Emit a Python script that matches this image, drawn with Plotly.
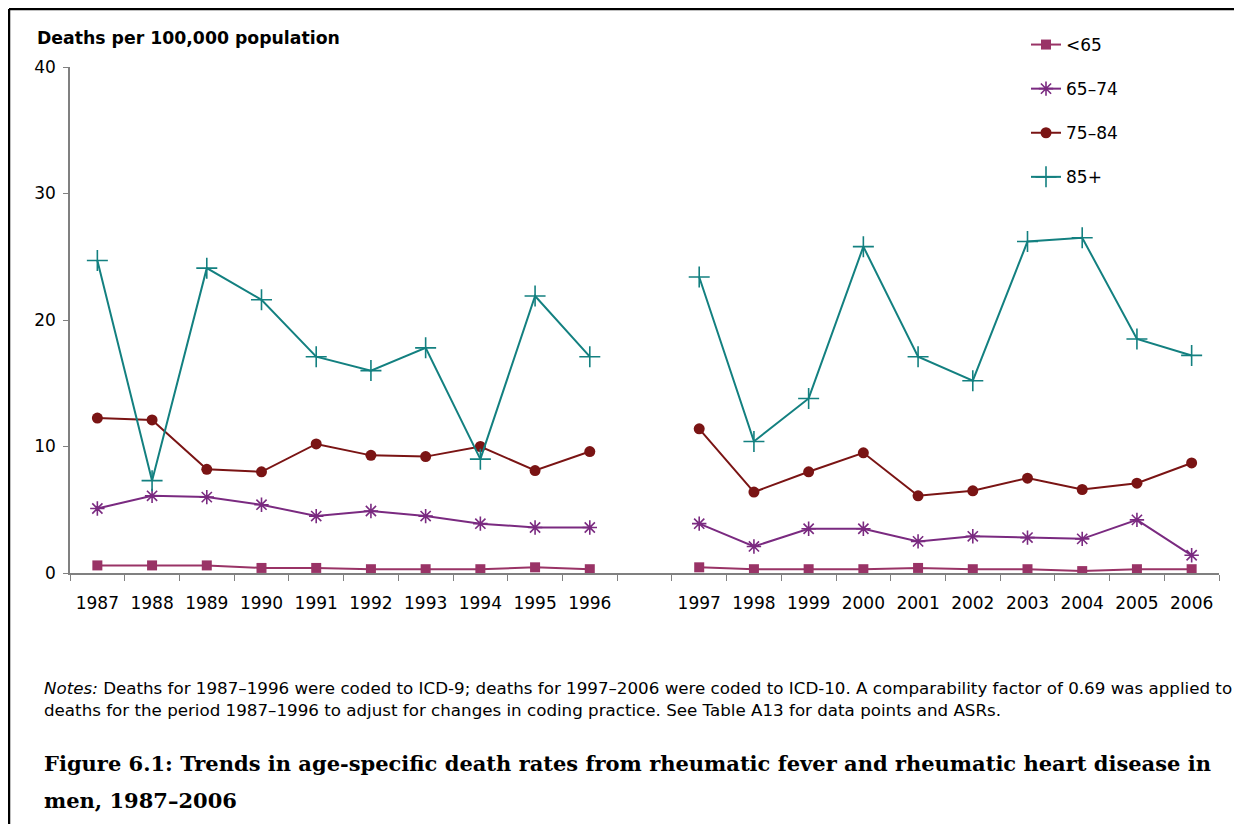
import plotly.graph_objects as go

# anos (ICD-9 e ICD-10), com uma categoria vazia entre os dois períodos
anos_icd9 = ['1987', '1988', '1989', '1990', '1991', '1992', '1993', '1994', '1995', '1996']
anos_icd10 = ['1997', '1998', '1999', '2000', '2001', '2002', '2003', '2004', '2005', '2006']

# taxas por 100.000
menos_65 = [0.6, 0.6, 0.6, 0.4, 0.4, 0.3, 0.3, 0.3, 0.45, 0.3,
            0.45, 0.3, 0.3, 0.3, 0.4, 0.3, 0.3, 0.15, 0.3, 0.3]
de_65_74 = [5.1, 6.1, 6.0, 5.4, 4.5, 4.9, 4.5, 3.9, 3.6, 3.6,
            3.9, 2.1, 3.5, 3.5, 2.5, 2.9, 2.8, 2.7, 4.2, 1.4]
de_75_84 = [12.25, 12.1, 8.2, 8.0, 10.2, 9.3, 9.2, 10.0, 8.1, 9.6,
            11.4, 6.4, 8.0, 9.5, 6.1, 6.5, 7.5, 6.6, 7.1, 8.7]
mais_85 = [24.7, 7.3, 24.1, 21.6, 17.1, 16.0, 17.8, 9.0, 21.9, 17.1,
           23.4, 10.4, 13.8, 25.8, 17.1, 15.2, 26.2, 26.5, 18.5, 17.2]

categorias = anos_icd9 + [' '] + anos_icd10


def com_quebra(valores):
    # insere um vazio no lugar da categoria de separação
    return valores[:10] + [None] + valores[10:]


series = [
    ('<65', menos_65, '#993366', 'square', 10, 0),
    ('65–74', de_65_74, '#7a2a80', 'asterisk-open', 12, 1.6),
    ('75–84', de_75_84, '#7a1414', 'circle', 11, 0),
    ('85+', mais_85, '#138080', 'cross-thin-open', 15, 1.6),
]

fig = go.Figure()
for i, (nome, valores, cor, simbolo, tam, lw) in enumerate(series):
    fig.add_trace(go.Scatter(
        x=categorias, y=com_quebra(valores), name=nome, mode='lines+markers',
        connectgaps=False, legendgroup=str(i),
        line=dict(color=cor, width=2),
        marker=dict(symbol=simbolo, size=tam, color=cor,
                    line=dict(color=cor, width=lw)),
    ))

# a página tem 8px de margem no body; tudo é medido na imagem e deslocado
OFF = 8
W, H = 1242 - 2 * OFF, 832 - 2 * OFF
L, T = 70 - OFF, 67 - OFF
R = W - (1219 - OFF)
B = H - (573 - OFF)
pw, ph = W - L - R, H - T - B


def px_x(p):
    return (p - OFF - L) / pw


def px_y(p):
    return (H - B - (p - OFF)) / ph


SANS = 'DejaVu Sans, Verdana, sans-serif'

fig.update_layout(
    width=W, height=H,
    margin=dict(l=L, r=R, t=T, b=B),
    paper_bgcolor='white', plot_bgcolor='white',
    font=dict(family=SANS, size=17, color='black'),
    showlegend=True,
    legend=dict(x=px_x(1026), y=px_y(27), xanchor='left', yanchor='top',
                font=dict(size=17), tracegroupgap=19, bgcolor='rgba(0,0,0,0)'),
    xaxis=dict(type='category', categoryorder='array', categoryarray=categorias,
               range=[-0.5, len(categorias) - 0.5],
               showline=True, linecolor='#808080', linewidth=1.5,
               ticks='outside', tickson='boundaries', ticklen=6,
               tickcolor='#808080', tickwidth=1.2,
               ticklabelstandoff=14, showgrid=False, zeroline=False,
               tickfont=dict(size=17)),
    yaxis=dict(range=[0, 40], tickvals=[0, 10, 20, 30, 40],
               showline=True, linecolor='#808080', linewidth=1.5,
               ticks='outside', ticklen=5, tickcolor='#808080', tickwidth=1.2,
               ticklabelstandoff=4, showgrid=False, zeroline=False,
               tickfont=dict(size=17)),
)

# moldura (linha superior e esquerda)
fig.add_shape(type='line', xref='paper', yref='paper',
              x0=px_x(OFF + 1), x1=px_x(1242), y0=px_y(OFF + 1), y1=px_y(OFF + 1),
              line=dict(color='black', width=2.5))
fig.add_shape(type='line', xref='paper', yref='paper',
              x0=px_x(OFF + 1), x1=px_x(OFF + 1), y0=px_y(OFF + 1), y1=px_y(832),
              line=dict(color='black', width=2.5))

# título do eixo y
fig.add_annotation(text='<b>Deaths per 100,000 population</b>', xref='paper', yref='paper',
                   x=px_x(35), y=px_y(38), xanchor='left', yanchor='middle',
                   showarrow=False, font=dict(size=17.3))

# notas
fig.add_annotation(text='<i>Notes:</i> Deaths for 1987–1996 were coded to ICD-9; deaths for 1997–2006 '
                        'were coded to ICD-10. A comparability factor of 0.69 was applied to',
                   xref='paper', yref='paper', x=px_x(42), y=px_y(688),
                   xanchor='left', yanchor='middle', showarrow=False, font=dict(size=16.7))
fig.add_annotation(text='deaths for the period 1987–1996 to adjust for changes in coding practice. '
                        'See Table A13 for data points and ASRs.',
                   xref='paper', yref='paper', x=px_x(42), y=px_y(710),
                   xanchor='left', yanchor='middle', showarrow=False, font=dict(size=16.7))

# legenda da figura
legenda_fig = ['Figure 6.1: Trends in age-specific death rates from rheumatic fever and rheumatic heart disease in',
               'men, 1987–2006']
for linha, ypx in zip(legenda_fig, [763, 800]):
    fig.add_annotation(text='<b>' + linha + '</b>', xref='paper', yref='paper',
                       x=px_x(42), y=px_y(ypx), xanchor='left', yanchor='middle',
                       showarrow=False,
                       font=dict(family='DejaVu Serif, serif', size=21))

fig.write_html('out.html')
